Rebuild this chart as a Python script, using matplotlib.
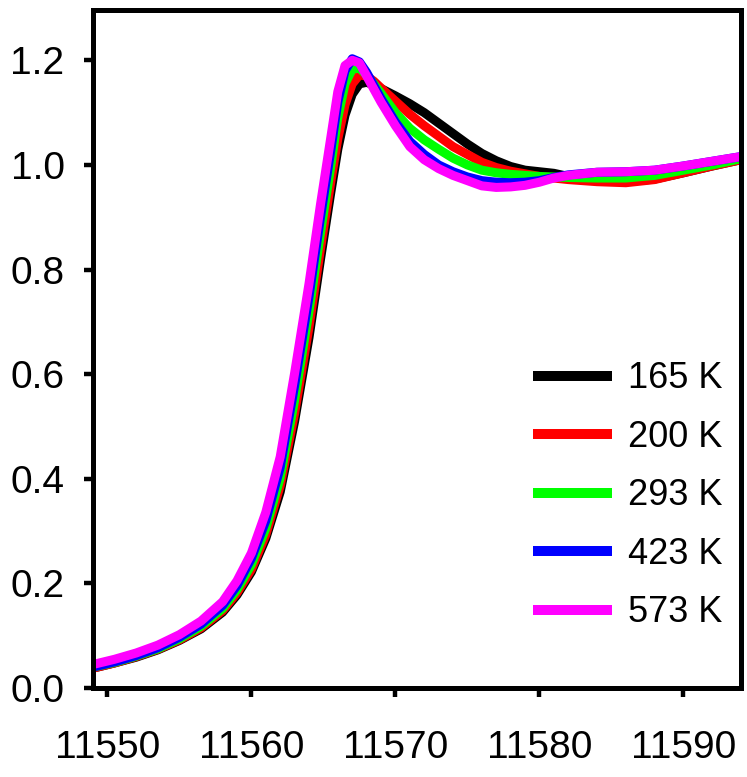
import matplotlib
matplotlib.use("Agg")
import matplotlib.pyplot as plt

plt.rcParams['font.family'] = ['Liberation Sans', 'DejaVu Sans']

# Photon energy grid (eV)
energy = [11549, 11550.5, 11552, 11553.5, 11555, 11556.5, 11558, 11559, 11560, 11561,
          11562, 11563, 11564, 11564.8, 11565.5, 11566, 11566.5, 11567, 11567.5, 11568,
          11568.5, 11569, 11570, 11571, 11572, 11573, 11574, 11575, 11576, 11577,
          11578, 11579, 11580, 11581, 11582, 11584, 11586, 11588, 11590, 11592, 11594]

# Normalized absorption at each temperature
mu_165 = [0.038, 0.048, 0.059, 0.073, 0.091, 0.113, 0.145, 0.178, 0.222, 0.286,
          0.375, 0.510, 0.670, 0.820, 0.945, 1.030, 1.095, 1.135, 1.155, 1.158,
          1.153, 1.146, 1.132, 1.117, 1.100, 1.080, 1.060, 1.040, 1.022, 1.008,
          0.997, 0.990, 0.987, 0.984, 0.978, 0.970, 0.968, 0.973, 0.985, 0.998, 1.010]
mu_200 = [0.038, 0.048, 0.060, 0.074, 0.092, 0.115, 0.148, 0.182, 0.227, 0.293,
          0.387, 0.525, 0.690, 0.840, 0.965, 1.050, 1.115, 1.155, 1.172, 1.170,
          1.160, 1.147, 1.122, 1.097, 1.075, 1.055, 1.035, 1.020, 1.005, 0.995,
          0.988, 0.983, 0.978, 0.975, 0.972, 0.968, 0.966, 0.972, 0.985, 0.998, 1.010]
mu_293 = [0.040, 0.049, 0.061, 0.075, 0.094, 0.118, 0.152, 0.188, 0.236, 0.305,
          0.402, 0.550, 0.720, 0.870, 0.995, 1.090, 1.155, 1.183, 1.185, 1.172,
          1.155, 1.137, 1.100, 1.070, 1.048, 1.030, 1.013, 1.000, 0.990, 0.985,
          0.982, 0.980, 0.978, 0.977, 0.976, 0.975, 0.975, 0.980, 0.990, 1.000, 1.012]
mu_423 = [0.040, 0.050, 0.062, 0.077, 0.097, 0.122, 0.158, 0.196, 0.248, 0.320,
          0.422, 0.578, 0.748, 0.900, 1.025, 1.120, 1.180, 1.203, 1.197, 1.177,
          1.152, 1.127, 1.082, 1.045, 1.020, 1.000, 0.987, 0.977, 0.970, 0.967,
          0.966, 0.967, 0.970, 0.976, 0.981, 0.986, 0.987, 0.990, 0.998, 1.007, 1.016]
mu_573 = [0.045, 0.055, 0.067, 0.082, 0.102, 0.128, 0.165, 0.205, 0.258, 0.336,
          0.442, 0.602, 0.773, 0.925, 1.050, 1.140, 1.190, 1.200, 1.195, 1.170,
          1.145, 1.120, 1.075, 1.035, 1.010, 0.993, 0.980, 0.970, 0.960, 0.957,
          0.958, 0.961, 0.967, 0.975, 0.980, 0.986, 0.987, 0.990, 0.998, 1.007, 1.016]

series = [mu_165, mu_200, mu_293, mu_423, mu_573]
labels = ["165 K", "200 K", "293 K", "423 K", "573 K"]
colors = ["#000000", "#ff0000", "#00ff00", "#0000ff", "#ff00ff"]

xticks = [11550, 11560, 11570, 11580, 11590]
yticks = [0.0, 0.2, 0.4, 0.6, 0.8, 1.0, 1.2]

fig = plt.figure(figsize=(7.47, 7.77), dpi=100)
ax = fig.add_axes([0.1245, 0.1145, 0.8675, 0.8725])

for y, lab, c in zip(series, labels, colors):
    ax.plot(energy, y, color=c, lw=6.5, label=lab,
            solid_capstyle='butt', solid_joinstyle='round')

ax.set_xlim(11549, 11594)
ax.set_ylim(0, 1.296)
ax.set_xticks(xticks)
ax.set_xticklabels([str(t) for t in xticks])
ax.set_yticks(yticks)
ax.set_yticklabels([f"{t:.1f}" for t in yticks])

for s in ax.spines.values():
    s.set_linewidth(3.6)
ax.tick_params(axis='both', direction='out', length=6.5, width=3.2, labelsize=28)
ax.tick_params(axis='x', pad=24)
ax.tick_params(axis='y', pad=14)

leg = ax.legend(loc='upper left', bbox_to_anchor=(0.679, 0.482), frameon=False,
                fontsize=26, handlelength=2.2, handletextpad=0.44, labelspacing=0.65,
                borderaxespad=0, borderpad=0)
for line in leg.get_lines():
    line.set_linewidth(7.2)

fig.savefig("out.png", dpi=100)
